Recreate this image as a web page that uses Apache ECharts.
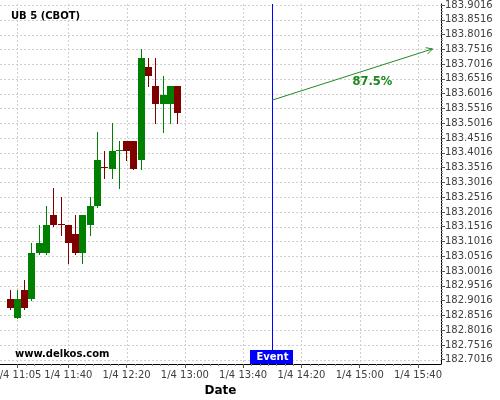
<!DOCTYPE html>
<html>
<head>
<meta charset="utf-8">
<script src="https://cdn.jsdelivr.net/npm/echarts@6/dist/echarts.min.js"></script>
<style>html,body{margin:0;padding:0;background:#fff}#c{width:500px;height:400px}</style>
</head>
<body>
<div id="c"></div>
<script>
// ---- data ----
const chartTitle = 'UB 5 (CBOT)';
const watermark = 'www.delkos.com';
const dateLabel = '1/4';
const times  = ['11:00','11:05','11:10','11:15','11:20','11:25','11:30','11:35','11:40','11:45','11:50','11:55',
                '12:00','12:05','12:10','12:15','12:20','12:25','12:30','12:35','12:40','12:45','12:50','12:55'];
const opens  = [182.907,182.844,182.938,182.907,183.063,183.063,183.191,183.161,183.157,183.127,183.063,183.157,
                183.222,183.352,183.348,183.408,183.442,183.442,183.377,183.692,183.628,183.567,183.567,183.628];
const closes = [182.878,182.907,182.878,183.063,183.097,183.157,183.157,183.157,183.097,183.063,183.191,183.222,
                183.377,183.349,183.408,183.411,183.409,183.348,183.721,183.663,183.567,183.597,183.628,183.537];
const lows   = [182.873,182.844,182.873,182.904,183.059,183.059,183.154,183.124,183.030,183.059,183.030,183.124,
                183.218,183.315,183.315,183.281,183.377,183.346,183.346,183.628,183.501,183.471,183.501,183.501];
const highs  = [182.938,182.938,182.971,183.095,183.157,183.222,183.281,183.251,183.157,183.191,183.191,183.251,
                183.473,183.408,183.501,183.442,183.442,183.442,183.752,183.721,183.721,183.661,183.628,183.628];
const xTickTimes = ['11:05','11:40','12:20','13:00','13:40','14:20','15:00','15:40'];
const yTickLabels = ['182.7016','182.7516','182.8016','182.8516','182.9016','182.9516','183.0016','183.0516',
                     '183.1016','183.1516','183.2016','183.2516','183.3016','183.3516','183.4016','183.4516',
                     '183.5016','183.5516','183.6016','183.6516','183.7016','183.7516','183.8016','183.8516','183.9016'];
const eventTime = '14:00';
const eventText = 'Event';
const forecastFrom = ['14:00', 183.580];
const forecastTo   = ['15:50', 183.753];
const forecastText = '87.5%';
const xAxisName = 'Date';

// ---- helpers / layout ----
const toMin = s => { const p = s.split(':').map(Number); return p[0]*60 + p[1]; };
const fmtTime = v => { const m = Math.round(v); const h = Math.floor(m/60), mm = m%60; return h + ':' + String(mm).padStart(2,'0'); };
const X_MIN = 653.1, X_MAX = 955.8;
const Y_MIN = 182.6871, Y_MAX = 183.905;
const FONT = '"DejaVu Sans", Verdana, sans-serif';
const UP = '#008000', DOWN = '#800000';

const candleData = times.map((t,i) => [toMin(t), opens[i], closes[i], lows[i], highs[i]]);
const xMajor = xTickTimes.map(toMin);
const yMajor = yTickLabels.map(Number);

// minor ticks: subdivide each major interval
const xMinor = [];
for (let i = 0; i < xMajor.length - 1; i++) {
  const a = xMajor[i], b = xMajor[i+1];
  const n = Math.round((b - a) / 5.8);
  for (let k = 1; k < n; k++) xMinor.push(a + (b - a) * k / n);
}
const yMinor = [];
for (let i = 0; i < yMajor.length - 1; i++) {
  for (let k = 1; k < 5; k++) yMinor.push(yMajor[i] + (yMajor[i+1]-yMajor[i]) * k / 5);
}

const option = {
  animation: false,
  backgroundColor: '#fff',
  grid: {left:0, right:59, top:4, bottom:36, containLabel:false, outerBoundsMode:'none'},
  xAxis: [{
    type:'value', min:X_MIN, max:X_MAX, position:'bottom',
    name: xAxisName, nameLocation:'middle', nameGap:14,
    nameTextStyle:{fontFamily:FONT, fontSize:12, fontWeight:'bold', color:'#000'},
    axisLine:{show:true, onZero:false, lineStyle:{color:'#000', width:1}},
    axisTick:{show:true, length:4, customValues:xMajor, lineStyle:{color:'#555'}},
    axisLabel:{show:true, customValues:xMajor, margin:6, fontFamily:FONT, fontSize:10, color:'#404040',
               formatter: v => dateLabel + ' ' + fmtTime(v)},
    minorTick:{show:false}, minorSplitLine:{show:false},
    splitLine:{show:false}
  }],
  yAxis: [{
    type:'value', min:Y_MIN, max:Y_MAX, position:'right',
    axisLine:{show:true, onZero:false, lineStyle:{color:'#000', width:1}},
    axisTick:{show:true, length:4, customValues:yMajor, lineStyle:{color:'#555'}},
    axisLabel:{show:true, customValues:yMajor, margin:4, fontFamily:FONT, fontSize:10, color:'#404040',
               formatter: v => v.toFixed(4)},
    minorTick:{show:false}, minorSplitLine:{show:false},
    splitLine:{show:false}
  }],
  graphic: [
    {type:'text', left:11, top:11, z:100, style:{text:chartTitle, font:'bold 10px ' + FONT, fill:'#000'}},
    {type:'text', left:15, top:349, z:100, style:{text:watermark, font:'bold 10px ' + FONT, fill:'#000'}}
  ],
  series: [{
    // grid lines and minor axis ticks
    type:'custom',
    xAxisIndex:0, yAxisIndex:0,
    data:[[X_MIN, Y_MIN]],
    encode:{x:0, y:1},
    clip:false, z:1, silent:true,
    renderItem:(params, api) => {
      const children = [];
      const g = {stroke:'#cfcfcf', lineWidth:1, lineDash:[2,2]};
      const st = {stroke:'#888', lineWidth:1};
      const tl = api.coord([X_MIN, Y_MAX]), br = api.coord([X_MAX, Y_MIN]);
      xMajor.forEach(v => {
        const x = Math.round(api.coord([v, Y_MIN])[0]) + 0.5;
        children.push({type:'line', shape:{x1:x, y1:tl[1], x2:x, y2:br[1]}, style:g});
      });
      yMajor.forEach(v => {
        const y = Math.round(api.coord([X_MIN, v])[1]) + 0.5;
        children.push({type:'line', shape:{x1:tl[0], y1:y, x2:br[0], y2:y}, style:g});
      });
      xMinor.forEach(v => {
        const p = api.coord([v, Y_MIN]);
        const x = Math.round(p[0]) + 0.5;
        children.push({type:'line', shape:{x1:x, y1:p[1], x2:x, y2:p[1]+2}, style:st});
      });
      yMinor.forEach(v => {
        const p = api.coord([X_MAX, v]);
        const y = Math.round(p[1]) + 0.5;
        children.push({type:'line', shape:{x1:p[0], y1:y, x2:p[0]+2, y2:y}, style:st});
      });
      return {type:'group', children};
    }
  },{
    // candlesticks (OHLC through the axes' scales, pixel-snapped)
    type:'custom',
    xAxisIndex:0, yAxisIndex:0,
    data: candleData,
    encode:{x:0, y:[1,2,3,4]},
    z:3,
    renderItem:(params, api) => {
      const t = api.value(0), o = api.value(1), c = api.value(2), l = api.value(3), h = api.value(4);
      const cx = api.coord([t, o])[0];
      const yo = api.coord([t, o])[1], yc = api.coord([t, c])[1];
      const yl = api.coord([t, l])[1], yh = api.coord([t, h])[1];
      const col = c >= o ? UP : DOWN;
      const px = Math.floor(cx);
      const top = Math.round(Math.min(yo, yc)), bot = Math.round(Math.max(yo, yc));
      return {type:'group', children:[
        {type:'line', shape:{x1:px+0.5, y1:Math.round(yh), x2:px+0.5, y2:Math.round(yl)+1},
         style:{stroke:col, lineWidth:1}},
        {type:'rect', shape:{x:px-3, y:top, width:7, height:Math.max(1, bot-top)}, style:{fill:col}}
      ]};
    }
  },{
    type:'custom',
    xAxisIndex:0, yAxisIndex:0,
    data:[[toMin(eventTime), (Y_MIN+Y_MAX)/2]],
    encode:{x:0, y:1},
    clip:false, z:6,
    renderItem:(params, api) => {
      const top = api.coord([api.value(0), Y_MAX]);
      const bot = api.coord([api.value(0), Y_MIN]);
      const x = Math.round(top[0]) + 0.5;
      return {type:'group', children:[
        {type:'line', shape:{x1:x, y1:top[1], x2:x, y2:bot[1]-14}, style:{stroke:'#0000ff', lineWidth:1}},
        {type:'rect', shape:{x:x-22.5, y:bot[1]-14, width:43, height:14}, style:{fill:'#0000ff'}},
        {type:'text', style:{x:x, y:bot[1]-6.5, text:eventText, fill:'#fff', font:'bold 10px ' + FONT,
                              align:'center', verticalAlign:'middle'}}
      ]};
    }
  },{
    type:'custom',
    xAxisIndex:0, yAxisIndex:0,
    data:[[toMin(forecastFrom[0]), forecastFrom[1], toMin(forecastTo[0]), forecastTo[1]]],
    encode:{x:[0,2], y:[1,3]},
    clip:false, z:6,
    renderItem:(params, api) => {
      const p1 = api.coord([api.value(0), api.value(1)]);
      const p2 = api.coord([api.value(2), api.value(3)]);
      const ang = Math.atan2(p2[1]-p1[1], p2[0]-p1[0]);
      const L = 7, sp = 28*Math.PI/180;
      const a1 = [p2[0] - L*Math.cos(ang - sp), p2[1] - L*Math.sin(ang - sp)];
      const a2 = [p2[0] - L*Math.cos(ang + sp), p2[1] - L*Math.sin(ang + sp)];
      const mid = [(p1[0]+p2[0])/2, (p1[1]+p2[1])/2];
      const st = {stroke:'#228b22', lineWidth:1, fill:null};
      return {type:'group', children:[
        {type:'line', shape:{x1:p1[0], y1:p1[1], x2:p2[0], y2:p2[1]}, style:st},
        {type:'polyline', shape:{points:[a1, p2, a2]}, style:st},
        {type:'text', style:{x:mid[0]+20, y:mid[1]+7.5, text:forecastText, fill:'#1a881a',
                              font:'bold 11.5px ' + FONT, align:'center', verticalAlign:'middle'}}
      ]};
    }
  }]
};

const chart = echarts.init(document.getElementById('c'), null, {renderer:'canvas'});
chart.setOption(option);
</script>
</body>
</html>
